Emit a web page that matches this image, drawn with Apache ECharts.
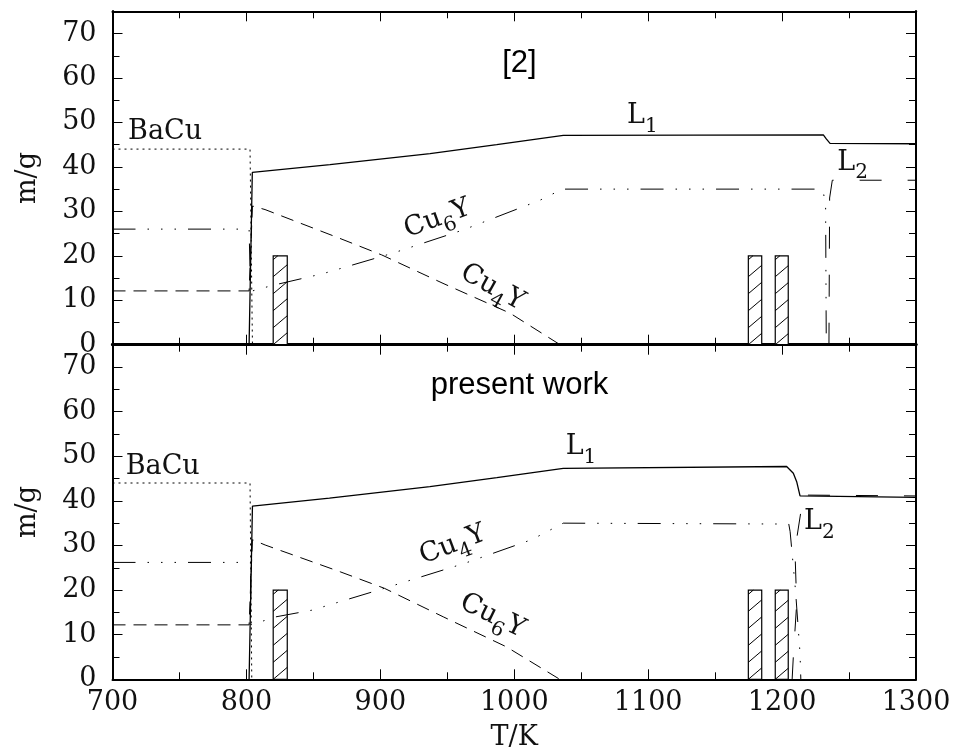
<!DOCTYPE html>
<html><head><meta charset="utf-8">
<script src="https://cdn.jsdelivr.net/npm/echarts@6/dist/echarts.min.js"></script>
<style>html,body{margin:0;padding:0;background:#fff}#c{width:958px;height:756px}</style>
</head><body><div id="c"></div>
<script>
// ---------- data ----------
const xMin = 700, xMax = 1300, xStep = 100;
const yMin = 0, yMax = 75, yStep = 10;

// Top panel ("[2]")
const topBaCu = [[700,44],[802.7,44],[804.5,0]];
const topL1 = [[802,0],[804.4,38.75],[862.4,40.5],[937.1,43.0],[986.9,45.0],[1036.6,47.1],[1230.8,47.2],[1233,46.3],[1235.8,45.3],[1300,45.2]];
const topDashDot = [[700,26],[802,26],[803,12.8],[804.5,12.1],[819,13.3],[857.4,16.0],[909.4,20.6],[961.7,25.8],[1019.2,32.5],[1036,35.0],[1228,35.0],[1231,34],[1232.5,31],[1233,0]];
const topDashed = [[700,12.1],[802,12.1],[804.5,31.2],[813.9,30.4],[869.9,23.9],[901,20.2],[946.8,13.8],[996.8,7.1],[1034.2,0]];
const topL2 = [[1235,0],[1235.5,33],[1237.5,37],[1300,37]];

// Bottom panel ("present work")
const botBaCu = [[700,44],[802.7,44],[804,0]];
const botL1 = [[802,0],[804.5,38.8],[862,40.6],[937,43.2],[987,45.2],[1036.6,47.3],[1203.4,47.7],[1208.4,46.2],[1210.9,44.3],[1213.4,41.1],[1300,40.8]];
const botDashDot = [[700,26.2],[803,26.2],[803.5,12.2],[804.5,12.4],[822,14.0],[849,15.5],[903,20.4],[963,26.0],[1013,31.3],[1036.6,35.0],[1205,34.8],[1206,33.1],[1210,20],[1213.4,5.8],[1214,0]];
const botDashed = [[700,12.2],[802,12.2],[804.5,31.3],[814,30.1],[870,24.1],[903,20.4],[947,14.0],[994,7.3],[1034,0]];
const botL2 = [[1207.5,0],[1208.4,5.1],[1210.9,17],[1209.6,29],[1213.9,37.3],[1214,41.3],[1300,41.1]];

// Hatched experimental bars (same in both panels)
const barStart = [820, 1174.8, 1194.9];
const barEnd = [830.5, 1184.8, 1204.6];
const barTop = [20, 20, 20];

// Annotations
const annotations = [
  {panel:0, text:'{a|BaCu}', x:711.6, y:50.8, anchor:'lt'},
  {panel:0, text:'{a|L}{s|1}', x:1084.2, y:54.5, anchor:'lt'},
  {panel:0, text:'{a|L}{s|2}', x:1241.2, y:44.0, anchor:'lt'},
  {panel:0, text:'{a|Cu}{s|6}{a|Y}', x:943, y:28.0, anchor:'c', rot:20},
  {panel:0, text:'{a|Cu}{s|4}{a|Y}', x:983.2, y:12.6, anchor:'c', rot:-29},
  {panel:0, text:'[2]', x:1003.9, y:63.3, anchor:'title'},
  {panel:1, text:'{a|BaCu}', x:709.9, y:50.6, anchor:'lt'},
  {panel:1, text:'{a|L}{s|1}', x:1038.4, y:55.1, anchor:'lt'},
  {panel:1, text:'{a|L}{s|2}', x:1216.4, y:38.3, anchor:'lt'},
  {panel:1, text:'{a|Cu}{s|4}{a|Y}', x:954.5, y:29.8, anchor:'c', rot:21},
  {panel:1, text:'{a|Cu}{s|6}{a|Y}', x:983.2, y:13.9, anchor:'c', rot:-26},
  {panel:1, text:'present work', x:1003.9, y:65.9, anchor:'title'}
];

// ---------- styles ----------
const SERIF = '"DejaVu Serif", "Liberation Serif", serif';
const SANS = '"Liberation Sans", Arial, sans-serif';
const INK = '#000';
const STY = {
  dotted: [2, 4],
  dashed: [13, 8],
  dashDot: [23, 12, 1.5, 12, 1.5, 12, 1.5, 12],
  longDash: [22, 26]
};

const chart = echarts.init(document.getElementById('c'), null, {renderer: 'canvas'});

const grids = [
  {left:112.5, top:11.3, width:803.5, height:333.4, outerBoundsMode:'none', containLabel:false},
  {left:112.5, top:344.7, width:803.5, height:334.6, outerBoundsMode:'none', containLabel:false}
];

function xAx(grid, pos, showLabel, lineW) {
  return {
    type:'value', gridIndex:grid, position:pos, min:xMin, max:xMax, interval:xStep,
    axisLine:{show:true, onZero:false, lineStyle:{color:INK, width:lineW}},
    axisTick:{show:true, inside:true, length:10, lineStyle:{color:INK, width:1}},
    minorTick:{show:true, splitNumber:2, length:7, lineStyle:{color:INK, width:1}},
    splitLine:{show:false}, minorSplitLine:{show:false},
    axisLabel:{show:showLabel, margin:10, color:'#111', fontFamily:SERIF, fontSize:27,
      formatter: v => String(v), showMinLabel:true, showMaxLabel:true, hideOverlap:false},
    name: (showLabel ? 'T/K' : ''), nameLocation:'middle', nameGap:45,
    nameTextStyle:{fontFamily:SERIF, fontSize:27, color:'#111'}
  };
}
function yAx(grid, pos, interval, len, showLabel) {
  return {
    type:'value', gridIndex:grid, position:pos, min:yMin, max:yMax, interval:interval,
    axisLine:{show:true, onZero:false, lineStyle:{color:INK, width:2}},
    axisTick:{show:true, inside:true, length:len, lineStyle:{color:INK, width:1}},
    splitLine:{show:false},
    axisLabel:{show:showLabel, margin:16, color:'#111', fontFamily:SERIF, fontSize:27,
      formatter: v => (v % yStep === 0 ? String(v) : ''), showMaxLabel:true, showMinLabel:true, hideOverlap:false},
    name: showLabel ? 'm/g' : '', nameLocation:'middle', nameGap:71, nameRotate:90,
    nameTextStyle:{fontFamily:SERIF, fontSize:27, color:'#111'}
  };
}

const xAxes = [
  xAx(0,'bottom',false,3), xAx(0,'top',false,2),
  xAx(1,'bottom',true,2), xAx(1,'top',false,3)
];
const yAxes = [];
[0,1].forEach(g => {
  yAxes.push(yAx(g,'left',yStep,10,true));
  yAxes.push(yAx(g,'left',5,7,false));
  yAxes.push(yAx(g,'right',yStep,10,false));
  yAxes.push(yAx(g,'right',5,7,false));
});

function lineSeries(data, panel, dash, width) {
  return {
    type:'line', data:data, xAxisIndex: panel === 0 ? 0 : 2, yAxisIndex: panel === 0 ? 0 : 4,
    symbol:'none', showSymbol:false, smooth:false, animation:false, silent:true, clip:false,
    lineStyle:{color:INK, width:width, type:dash}
  };
}

function barSeries(panel) {
  return {
    type:'custom', xAxisIndex: panel === 0 ? 0 : 2, yAxisIndex: panel === 0 ? 0 : 4,
    animation:false, silent:true,
    data: barStart.map((s, i) => [s, barEnd[i], barTop[i]]),
    encode:{x:[0,1], y:2},
    renderItem: function (params, api) {
      const p0 = api.coord([api.value(0), 0]);
      const p1 = api.coord([api.value(1), api.value(2)]);
      const x0 = p0[0], x1 = p1[0], yb = p0[1], yt = p1[1];
      const w = x1 - x0, h = yb - yt, s = 0.85, step = 17;
      const children = [{type:'rect', shape:{x:x0, y:yt, width:w, height:h},
        style:{fill:'#fff', stroke:INK, lineWidth:1.2}}];
      for (let c = 0; c < h; c += step) {
        const xa = Math.max(x0, x0 - c / s);
        const xb = Math.min(x1, x0 + (h - c) / s);
        if (xb > xa) {
          children.push({type:'line', shape:{
            x1:xa, y1:yb - c - (xa - x0) * s, x2:xb, y2:yb - c - (xb - x0) * s},
            style:{stroke:INK, lineWidth:1}});
        }
      }
      return {type:'group', children:children};
    }
  };
}

const series = [
  barSeries(0), barSeries(1),
  lineSeries(topBaCu, 0, STY.dotted, 1),
  lineSeries(topDashed, 0, STY.dashed, 1),
  lineSeries(topDashDot, 0, STY.dashDot, 1),
  lineSeries(topL2, 0, STY.longDash, 1),
  lineSeries(topL1, 0, 'solid', 1.3),
  lineSeries(botBaCu, 1, STY.dotted, 1),
  lineSeries(botDashed, 1, STY.dashed, 1),
  lineSeries(botDashDot, 1, STY.dashDot, 1),
  lineSeries(botL2, 1, STY.longDash, 1),
  lineSeries(botL1, 1, 'solid', 1.3)
];

chart.setOption({
  animation:false,
  backgroundColor:'#fff',
  grid:grids,
  xAxis:xAxes,
  yAxis:yAxes,
  series:series
});

const rich = {
  a:{fontFamily:SERIF, fontSize:27, lineHeight:30, verticalAlign:'top', color:'#111'},
  s:{fontFamily:SERIF, fontSize:20, lineHeight:20, verticalAlign:'top', padding:[14,0,0,0], color:'#111'}
};
const graphics = annotations.map(a => {
  const p = chart.convertToPixel({xAxisIndex: a.panel === 0 ? 0 : 2, yAxisIndex: a.panel === 0 ? 0 : 4}, [a.x, a.y]);
  if (a.anchor === 'title') {
    return {type:'text', x:p[0], y:p[1], silent:true,
      style:{text:a.text, fontFamily:SANS, fontSize:31, fill:'#000', align:'center', verticalAlign:'middle'}};
  }
  const isC = a.anchor === 'c';
  return {type:'text', x:p[0], y:p[1], silent:true,
    rotation: (a.rot || 0) * Math.PI / 180,
    style:{text:a.text, rich:rich, fill:'#111', fontFamily:SERIF, fontSize:27,
      align: isC ? 'center' : 'left', verticalAlign: isC ? 'middle' : 'top'}};
});
chart.setOption({graphic: graphics});
</script>
</body></html>
